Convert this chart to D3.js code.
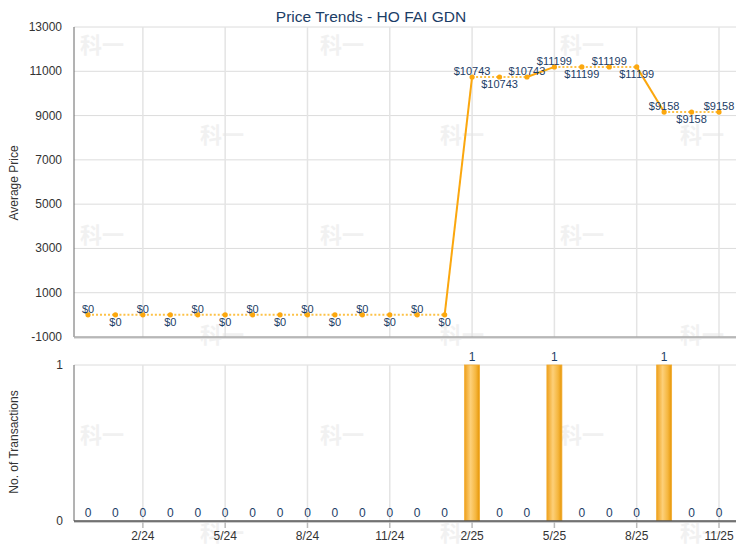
<!DOCTYPE html>
<html>
<head>
<meta charset="utf-8">
<script src="https://cdn.jsdelivr.net/npm/d3@7"></script>
<style>
  body { margin: 0; background: #fff; }
  svg { display: block; font-family: "Liberation Sans", Arial, sans-serif; }
</style>
</head>
<body>
<div id="chart"></div>
<script>
// 月份（2023年12月到2025年11月）
const months = ["12/23", "1/24", "2/24", "3/24", "4/24", "5/24", "6/24", "7/24", "8/24", "9/24", "10/24", "11/24",
    "12/24", "1/25", "2/25", "3/25", "4/25", "5/25", "6/25", "7/25", "8/25", "9/25", "10/25", "11/25"];
// 平均价格
const avgPrice = [0, 0, 0, 0, 0, 0, 0, 0, 0, 0, 0, 0, 0, 0,
    10743, 10743, 10743, 11199, 11199, 11199, 11199, 9158, 9158, 9158];
// 成交宗数
const transactions = [0, 0, 0, 0, 0, 0, 0, 0, 0, 0, 0, 0, 0, 0,
    1, 0, 0, 1, 0, 0, 0, 1, 0, 0];
// 刻度
const priceTicks = [-1000, 1000, 3000, 5000, 7000, 9000, 11000, 13000];
const countTicks = [0, 1];
const xTickLabels = ["2/24", "5/24", "8/24", "11/24", "2/25", "5/25", "8/25", "11/25"];

const width = 740, height = 550;
const left = 74, right = 736;
const navy = "#1c3d66";

const svg = d3.select("#chart").append("svg")
    .attr("width", width)
    .attr("height", height);

// 渐变（柱子）
const grad = svg.append("defs").append("linearGradient")
    .attr("id", "barGrad")
    .attr("x1", "0%").attr("x2", "100%").attr("y1", "0%").attr("y2", "0%");
grad.append("stop").attr("offset", "0%").attr("stop-color", "#eea01c");
grad.append("stop").attr("offset", "40%").attr("stop-color", "#fdd079");
grad.append("stop").attr("offset", "75%").attr("stop-color", "#f5b63e");
grad.append("stop").attr("offset", "100%").attr("stop-color", "#e59506");

// 水印
const wmRows = [45, 135, 235, 335, 435, 533];
wmRows.forEach((y, r) => {
    const xs = r % 2 === 0 ? [80, 320, 560] : [200, 440, 680];
    xs.forEach(xp => {
        svg.append("text")
            .attr("x", xp + 22).attr("y", y + 8)
            .attr("text-anchor", "middle")
            .attr("font-family", "'Noto Sans CJK SC', sans-serif")
            .attr("font-weight", "bold")
            .attr("font-size", "22px")
            .attr("fill", "#f1f1f1")
            .text("科一");
    });
});

// 比例尺
const x = d3.scalePoint().domain(months).range([88, 719]);
const yPrice = d3.scaleLinear().domain([-1000, 13000]).range([337, 27]);
const yCount = d3.scaleLinear().domain([0, 1]).range([521, 365]);

// 标题
svg.append("text")
    .attr("x", 371).attr("y", 22)
    .attr("text-anchor", "middle")
    .attr("font-size", "15.5px")
    .attr("fill", navy)
    .text("Price Trends - HO FAI GDN");

// ---------- 上图：价格 ----------
const priceG = svg.append("g");

// 横向网格
priceG.selectAll("line.hgrid")
    .data(priceTicks.filter(d => d > -1000))
    .enter().append("line")
    .attr("x1", left).attr("x2", right)
    .attr("y1", d => yPrice(d)).attr("y2", d => yPrice(d))
    .attr("stroke", "#dcdcdc");

// 纵向网格
priceG.selectAll("line.vgrid")
    .data(xTickLabels)
    .enter().append("line")
    .attr("x1", d => x(d)).attr("x2", d => x(d))
    .attr("y1", yPrice(13000)).attr("y2", yPrice(-1000))
    .attr("stroke", "#e4e4e4")
    .attr("stroke-width", 1.5);

// 坐标轴线
priceG.append("line")
    .attr("x1", left).attr("x2", left)
    .attr("y1", yPrice(13000)).attr("y2", yPrice(-1000))
    .attr("stroke", "#666");
priceG.append("line")
    .attr("x1", left).attr("x2", right)
    .attr("y1", yPrice(-1000) + 1).attr("y2", yPrice(-1000) + 1)
    .attr("stroke", "#e0e0e0").attr("stroke-width", 2);
priceG.append("line")
    .attr("x1", left).attr("x2", right)
    .attr("y1", yPrice(-1000)).attr("y2", yPrice(-1000))
    .attr("stroke", "#aaa").attr("stroke-width", 1.5);

// Y轴刻度
priceG.selectAll("text.ytick")
    .data(priceTicks)
    .enter().append("text")
    .attr("x", 62)
    .attr("y", d => yPrice(d))
    .attr("text-anchor", "end")
    .attr("dominant-baseline", "central")
    .attr("font-size", "12px")
    .attr("fill", "#333")
    .text(d => d);

svg.append("text")
    .attr("transform", "translate(18,183) rotate(-90)")
    .attr("text-anchor", "middle")
    .attr("font-size", "12px")
    .attr("fill", "#333")
    .text("Average Price");

// 折线：有成交的月份为实线，其余为虚线
for (let i = 1; i < months.length; i++) {
    const solid = transactions[i] > 0;
    priceG.append("line")
        .attr("x1", x(months[i - 1])).attr("y1", yPrice(avgPrice[i - 1]))
        .attr("x2", x(months[i])).attr("y2", yPrice(avgPrice[i]))
        .attr("stroke", solid ? "#fba70e" : "#fdc248")
        .attr("stroke-width", 2)
        .attr("stroke-dasharray", solid ? null : "2,2");
}

// 点
priceG.selectAll("circle.pt")
    .data(avgPrice)
    .enter().append("circle")
    .attr("cx", (d, i) => x(months[i]))
    .attr("cy", d => yPrice(d))
    .attr("r", 2.6)
    .attr("fill", "#fba70e");

// 数据标签：上下交替，价格变化时重新从上方开始
let side = 0;
const labelSide = avgPrice.map((d, i) => {
    if (i === 0 || d !== avgPrice[i - 1]) side = 0;
    else side = 1 - side;
    return side;
});
priceG.selectAll("text.lbl")
    .data(avgPrice)
    .enter().append("text")
    .attr("x", (d, i) => x(months[i]))
    .attr("y", (d, i) => yPrice(d) + (labelSide[i] === 0 ? -2 : 11))
    .attr("text-anchor", "middle")
    .attr("font-size", "11px")
    .attr("fill", navy)
    .text(d => "$" + d);

// ---------- 下图：成交宗数 ----------
const countG = svg.append("g");

countG.append("line")
    .attr("x1", left).attr("x2", right)
    .attr("y1", yCount(1)).attr("y2", yCount(1))
    .attr("stroke", "#dcdcdc");

countG.selectAll("line.vgrid")
    .data(xTickLabels)
    .enter().append("line")
    .attr("x1", d => x(d)).attr("x2", d => x(d))
    .attr("y1", yCount(1)).attr("y2", yCount(0))
    .attr("stroke", "#e4e4e4")
    .attr("stroke-width", 1.5);

// 柱子
const barW = 15;
countG.selectAll("rect.bar")
    .data(months.filter((m, i) => transactions[i] > 0))
    .enter().append("rect")
    .attr("x", d => x(d) - barW / 2)
    .attr("y", d => yCount(transactions[months.indexOf(d)]))
    .attr("width", barW)
    .attr("height", d => yCount(0) - yCount(transactions[months.indexOf(d)]))
    .attr("fill", "url(#barGrad)")
    .attr("stroke", "#f3ad33")
    .attr("stroke-width", 0.8);

// 柱子标签
countG.selectAll("text.cnt")
    .data(transactions)
    .enter().append("text")
    .attr("x", (d, i) => x(months[i]))
    .attr("y", d => yCount(d) - 4)
    .attr("text-anchor", "middle")
    .attr("font-size", "12px")
    .attr("fill", navy)
    .text(d => d);

// 坐标轴
countG.append("line")
    .attr("x1", left).attr("x2", left)
    .attr("y1", yCount(1)).attr("y2", yCount(0))
    .attr("stroke", "#666");
countG.append("line")
    .attr("x1", left).attr("x2", right)
    .attr("y1", yCount(0) + 1).attr("y2", yCount(0) + 1)
    .attr("stroke", "#ccc").attr("stroke-width", 2);
countG.append("line")
    .attr("x1", left).attr("x2", right)
    .attr("y1", yCount(0)).attr("y2", yCount(0))
    .attr("stroke", "#555").attr("stroke-width", 1.5);

countG.selectAll("line.xtick")
    .data(xTickLabels)
    .enter().append("line")
    .attr("x1", d => x(d)).attr("x2", d => x(d))
    .attr("y1", yCount(0) + 1).attr("y2", yCount(0) + 7)
    .attr("stroke", "#bbb")
    .attr("stroke-width", 1.5);

countG.selectAll("text.xlbl")
    .data(xTickLabels)
    .enter().append("text")
    .attr("x", d => x(d))
    .attr("y", 540)
    .attr("text-anchor", "middle")
    .attr("font-size", "12px")
    .attr("fill", "#333")
    .text(d => d);

countG.selectAll("text.ytick")
    .data(countTicks)
    .enter().append("text")
    .attr("x", 63)
    .attr("y", d => yCount(d))
    .attr("text-anchor", "end")
    .attr("dominant-baseline", "central")
    .attr("font-size", "12px")
    .attr("fill", "#333")
    .text(d => d);

svg.append("text")
    .attr("transform", "translate(18,442) rotate(-90)")
    .attr("text-anchor", "middle")
    .attr("font-size", "12px")
    .attr("fill", "#333")
    .text("No. of Transactions");
</script>
</body>
</html>
